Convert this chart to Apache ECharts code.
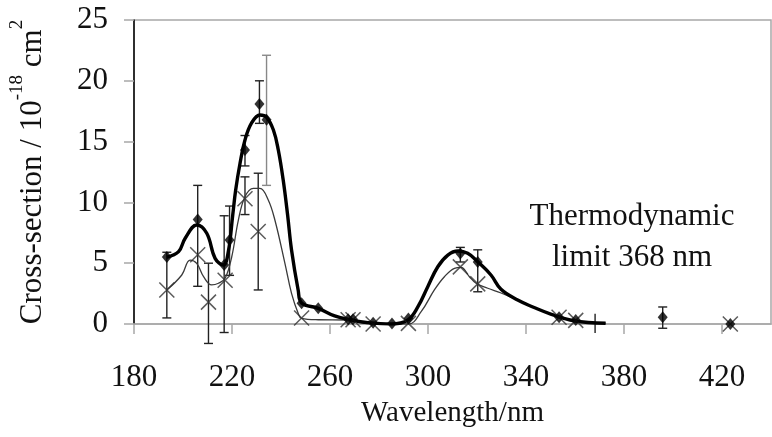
<!DOCTYPE html>
<html><head><meta charset="utf-8">
<script src="https://cdn.jsdelivr.net/npm/echarts@6/dist/echarts.min.js"></script>
<style>html,body{margin:0;padding:0;background:#fff}#c{width:772px;height:437px}</style>
</head><body><div id="c"></div>
<script>
const xTicks = [180, 220, 260, 300, 340, 380, 420];
const yTicks = [0, 5, 10, 15, 20, 25];

const thickX = [193.4,198.2,200.9,205.6,209.7,213.1,216.5,218.5,220.3,221.5,223.3,225.3,228.0,231.4,234.1,236.9,238.9,240.9,242.7,244.3,247.0,248.4,255.2,261.9,268.7,275.5,285.0,291.8,295.9,299.9,304.0,308.1,312.2,316.2,320.3,325.7,329.8,336.6,343.3,350.1,359.6,372.5];
const thickY = [5.49,5.95,7.05,8.14,7.46,5.40,4.85,5.95,8.96,11.02,13.24,15.13,16.53,17.19,17.02,15.95,14.31,11.84,8.96,6.09,2.80,1.73,1.29,0.66,0.33,0.11,0.0,0.33,1.42,3.07,4.71,5.67,6.0,5.81,5.12,4.03,2.85,1.97,1.36,0.82,0.27,0.06];

const thinX = [193.4,199.5,202.9,205.6,208.4,211.7,214.5,217.2,219.9,222.6,225.3,228.7,231.4,234.8,237.5,241.6,244.3,247.0,248.4,255.2,266.7,277.6,292.0,297.2,302.6,306.7,310.8,313.5,316.9,319.6,324.4,329.8,336.6,350.1,359.6,372.5];
const thinY = [2.80,4.03,5.26,4.99,3.89,3.21,3.35,3.76,5.53,8.55,10.47,11.16,11.16,10.20,8.55,4.99,2.52,0.88,0.47,0.35,0.33,0.0,0.0,1.01,2.80,3.89,4.58,4.66,3.89,3.35,2.94,2.55,1.97,0.82,0.27,0.06];

const diamondX = [193.4,206.0,216.8,219.0,225.3,231.2,234.1,248.4,255.2,267.4,269.4,277.6,285.3,292.0,313.2,320.3,353.5,360.3,395.8,423.4];
const diamondY = [5.5,8.6,4.85,6.9,14.3,18.1,16.8,1.7,1.3,0.4,0.4,0.1,0.05,0.45,5.8,5.1,0.55,0.33,0.55,0.0];

const crossX = [193.4,206.0,210.4,217.2,225.3,230.7,248.4,267.4,269.4,277.6,292.0,313.2,320.3,353.5,360.3,423.4];
const crossY = [2.8,5.7,1.8,3.6,10.3,7.6,0.5,0.35,0.35,0.0,0.05,4.7,3.3,0.55,0.3,0.0];

const errX = [193.4,206.0,210.4,216.8,219.0,225.3,225.3,230.7,231.2,234.1,313.2,320.3,395.8];
const errLow = [0.5,3.1,-1.6,-0.7,4.0,9.0,13.0,2.8,16.5,11.4,5.1,2.65,-0.35];
const errHigh = [5.9,11.4,5.0,8.9,9.7,12.1,15.5,12.4,20.0,22.1,6.3,6.1,1.4];
const errColor = ['#222','#222','#222','#222','#222','#222','#222','#222','#222','#888','#222','#222','#222'];

const limitX = [368.2];
const limitLow = [-0.75];
const limitHigh = [0.85];

const FONT = '"Liberation Serif","Times New Roman",serif';
const TXT = '#111';

const zip = (a, b) => a.map((v, i) => [v, b[i]]);

function errRender(caps) {
  return function (params, api) {
    const x = api.value(0), lo = api.value(1), hi = api.value(2);
    const p1 = api.coord([x, hi]), p2 = api.coord([x, lo]);
    const col = api.value(3) ? api.value(3) : '#222';
    const st = { stroke: col, lineWidth: 1.4 };
    const ch = [{ type: 'line', shape: { x1: p1[0], y1: p1[1], x2: p2[0], y2: p2[1] }, style: st }];
    if (caps) {
      ch.push({ type: 'line', shape: { x1: p1[0] - 4.5, y1: p1[1], x2: p1[0] + 4.5, y2: p1[1] }, style: st });
      ch.push({ type: 'line', shape: { x1: p2[0] - 4.5, y1: p2[1], x2: p2[0] + 4.5, y2: p2[1] }, style: st });
    }
    return { type: 'group', children: ch };
  };
}

const chart = echarts.init(document.getElementById('c'), null, { renderer: 'canvas' });
chart.setOption({
  animation: false,
  backgroundColor: '#fff',
  grid: { left: 132, right: 1, top: 20, bottom: 113, show: true, borderColor: '#a8a8a8', borderWidth: 1.5, backgroundColor: 'transparent' },
  xAxis: {
    type: 'value', min: 180, max: 440,
    axisLine: { show: true, onZero: false, lineStyle: { color: '#a8a8a8', width: 1.5 } },
    axisTick: { show: true, length: 10, customValues: xTicks, lineStyle: { color: '#a8a8a8', width: 1.5 } },
    axisLabel: { customValues: xTicks, margin: 38, fontSize: 31, fontFamily: FONT, color: TXT },
    splitLine: { show: false },
    name: 'Wavelength/nm', nameLocation: 'middle', nameGap: 75,
    nameTextStyle: { fontSize: 29, fontFamily: FONT, color: TXT }
  },
  yAxis: {
    type: 'value', min: 0, max: 25, interval: 5,
    axisLine: { show: true, lineStyle: { color: '#000', width: 1.5 } },
    axisTick: { show: true, length: 10, lineStyle: { color: '#a8a8a8', width: 1.5 } },
    axisLabel: { margin: 26, fontSize: 31, fontFamily: FONT, color: TXT },
    splitLine: { show: false },
    name: '{a|Cross-section / 10}{s|-18}{a| cm}{s|2}',
    nameLocation: 'middle', nameGap: 86, nameRotate: 90,
    nameTextStyle: {
      color: TXT, fontFamily: FONT,
      rich: {
        a: { fontSize: 31, fontFamily: FONT, color: TXT, verticalAlign: 'bottom', lineHeight: 40 },
        s: { fontSize: 19, fontFamily: FONT, color: TXT, verticalAlign: 'top', lineHeight: 40 }
      }
    }
  },
  graphic: [{
    type: 'text', x: 632, y: 237, z: 10,
    style: { text: 'Thermodynamic\nlimit 368 nm', fill: TXT, fontSize: 31, fontFamily: FONT, align: 'center', verticalAlign: 'middle', lineHeight: 41 }
  }],
  series: [
    { type: 'custom', renderItem: errRender(true), clip: false, z: 2,
      data: errX.map((x, i) => [x, errLow[i], errHigh[i], errColor[i]]),
      encode: { x: 0, y: [1, 2] } },
    { type: 'custom', renderItem: errRender(false), clip: false, z: 2,
      data: limitX.map((x, i) => [x, limitLow[i], limitHigh[i], '#222']),
      encode: { x: 0, y: [1, 2] } },
    { type: 'line', data: zip(thinX, thinY), smooth: 0.4, showSymbol: false, z: 3,
      lineStyle: { color: '#3a3a3a', width: 1.3 } },
    { type: 'line', data: zip(thickX, thickY), smooth: 0.4, showSymbol: false, z: 4,
      lineStyle: { color: '#000', width: 3.4 } },
    { type: 'scatter', data: zip(crossX, crossY), symbol: 'path://M0,0L10,10M10,0L0,10', symbolSize: 15, z: 5,
      itemStyle: { color: 'rgba(0,0,0,0)', borderColor: '#333', borderWidth: 1.5 } },
    { type: 'scatter', data: zip(diamondX, diamondY), symbol: 'diamond', symbolSize: [10, 12], z: 6,
      itemStyle: { color: '#000' } }
  ]
});
</script></body></html>
